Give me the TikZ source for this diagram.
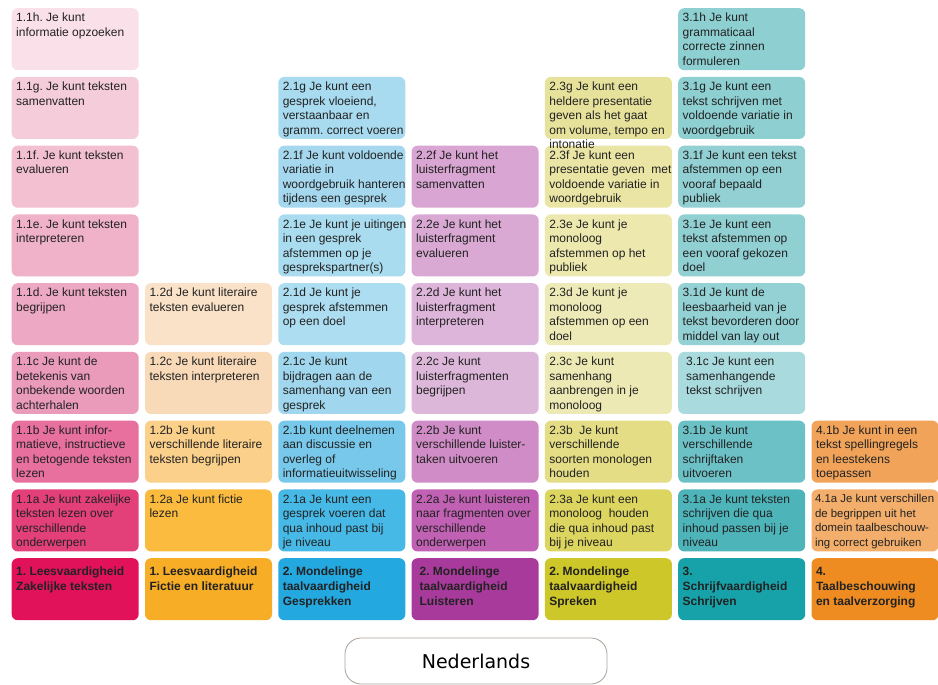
\documentclass[tikz,border=0pt]{standalone}
\usepackage{fontspec}
\setmainfont{Liberation Sans}
\newfontfamily\nlfont{DejaVu Sans}
\frenchspacing
\definecolor{txtdark}{HTML}{222222}
\definecolor{frameg}{HTML}{A8A098}
% column 1 pinks
\definecolor{pA}{HTML}{FAE0E9}\definecolor{pB}{HTML}{F5CCDA}\definecolor{pC}{HTML}{F2C0D1}
\definecolor{pD}{HTML}{EFB2C8}\definecolor{pE}{HTML}{EDA8C3}\definecolor{pF}{HTML}{EB9BBA}
\definecolor{pG}{HTML}{E8709F}\definecolor{pH}{HTML}{E3407A}\definecolor{pHd}{HTML}{E2125A}
% column 2 orange/yellow
\definecolor{oA}{HTML}{FAE2C8}\definecolor{oB}{HTML}{F9DAB8}\definecolor{oC}{HTML}{FBD08A}
\definecolor{oD}{HTML}{FABB3E}\definecolor{oHd}{HTML}{F8AD26}
% column 3 blue
\definecolor{bA}{HTML}{A8DBEF}\definecolor{bB}{HTML}{A5D8EE}\definecolor{bC}{HTML}{AADCF0}
\definecolor{bD}{HTML}{ACDDF0}\definecolor{bE}{HTML}{A0D7EE}\definecolor{bF}{HTML}{77C8EA}
\definecolor{bG}{HTML}{47B9E6}\definecolor{bHd}{HTML}{24A8E0}
% column 4 purple
\definecolor{uA}{HTML}{D9A5D2}\definecolor{uB}{HTML}{D9A9D4}\definecolor{uC}{HTML}{DDB4DA}
\definecolor{uD}{HTML}{DDB7DA}\definecolor{uE}{HTML}{D08CC6}\definecolor{uF}{HTML}{C061B3}
\definecolor{uHd}{HTML}{A83A9B}
% column 5 yellow
\definecolor{yA}{HTML}{E7E29B}\definecolor{yB}{HTML}{EAE5A4}\definecolor{yC}{HTML}{ECE8AE}
\definecolor{yD}{HTML}{EEEAB7}\definecolor{yE}{HTML}{EDE9B4}\definecolor{yF}{HTML}{E4DD85}
\definecolor{yG}{HTML}{DCD55F}\definecolor{yHd}{HTML}{CEC72A}
% column 6 teal
\definecolor{tA}{HTML}{8ECFD2}\definecolor{tB}{HTML}{8ECFD2}\definecolor{tC}{HTML}{92D0D3}
\definecolor{tD}{HTML}{90CFD2}\definecolor{tE}{HTML}{93D1D4}\definecolor{tF}{HTML}{A9DADD}
\definecolor{tG}{HTML}{6CC1C6}\definecolor{tH}{HTML}{4DB4BA}\definecolor{tHd}{HTML}{16A2A8}
% column 7 orange
\definecolor{rA}{HTML}{F2A35A}\definecolor{rB}{HTML}{F3AE6B}\definecolor{rHd}{HTML}{EE8C22}

\tikzset{
  cell/.style={rectangle, rounded corners=6pt, minimum width=127pt, minimum height=62pt,
               inner sep=0pt, anchor=north west, draw=none},
  txt/.style={anchor=north west, align=left, inner sep=0pt, text=txtdark,
              font=\fontsize{12}{14.5}\selectfont},
  htxt/.style={anchor=north west, align=left, inner sep=0pt, text=txtdark,
              font=\fontsize{12}{15}\selectfont\bfseries},
  nlbox/.style={draw=frameg, line width=0.8pt, rounded corners=16pt, minimum width=262pt,
              minimum height=46pt, inner sep=0pt, font=\nlfont\fontsize{19}{22}\selectfont, text=black}
}
\newcommand{\mkbox}[4]{\node[cell, fill=#4] (#1) at ({11.5+133.3*#2},{8+68.75*#3}) {};}
\newcommand{\mktxt}[2]{\node[txt] (#1t) at ([xshift=4.5pt,yshift=-5pt]#1.north west) {#2};}
\newcommand{\mkhead}[2]{\node[htxt] (#1t) at ([xshift=4.5pt,yshift=-9pt]#1.north west) {#2};}

\begin{document}
\begin{tikzpicture}[x=1pt,y=-1pt]
\useasboundingbox[fill=white] (0,0) rectangle (938,685);
% ---------- boxes ----------
% column 1
\mkbox{a8}{0}{0}{pA}\mkbox{a7}{0}{1}{pB}\mkbox{a6}{0}{2}{pC}\mkbox{a5}{0}{3}{pD}
\mkbox{a4}{0}{4}{pE}\mkbox{a3}{0}{5}{pF}\mkbox{a2}{0}{6}{pG}\mkbox{a1}{0}{7}{pH}
\mkbox{ah}{0}{8}{pHd}
% column 2
\mkbox{b4}{1}{4}{oA}\mkbox{b3}{1}{5}{oB}\mkbox{b2}{1}{6}{oC}\mkbox{b1}{1}{7}{oD}
\mkbox{bh}{1}{8}{oHd}
% column 3
\mkbox{c7}{2}{1}{bA}\mkbox{c6}{2}{2}{bB}\mkbox{c5}{2}{3}{bC}\mkbox{c4}{2}{4}{bD}
\mkbox{c3}{2}{5}{bE}\mkbox{c2}{2}{6}{bF}\mkbox{c1}{2}{7}{bG}\mkbox{ch}{2}{8}{bHd}
% column 4
\mkbox{d6}{3}{2}{uA}\mkbox{d5}{3}{3}{uB}\mkbox{d4}{3}{4}{uC}\mkbox{d3}{3}{5}{uD}
\mkbox{d2}{3}{6}{uE}\mkbox{d1}{3}{7}{uF}\mkbox{dh}{3}{8}{uHd}
% column 5
\mkbox{e7}{4}{1}{yA}\mkbox{e6}{4}{2}{yB}\mkbox{e5}{4}{3}{yC}\mkbox{e4}{4}{4}{yD}
\mkbox{e3}{4}{5}{yE}\mkbox{e2}{4}{6}{yF}\mkbox{e1}{4}{7}{yG}\mkbox{eh}{4}{8}{yHd}
% column 6
\mkbox{f8}{5}{0}{tA}\mkbox{f7}{5}{1}{tB}\mkbox{f6}{5}{2}{tC}\mkbox{f5}{5}{3}{tD}
\mkbox{f4}{5}{4}{tE}\mkbox{f3}{5}{5}{tF}\mkbox{f2}{5}{6}{tG}\mkbox{f1}{5}{7}{tH}
\mkbox{fh}{5}{8}{tHd}
% column 7
\mkbox{g2}{6}{6}{rA}\mkbox{g1}{6}{7}{rB}\mkbox{gh}{6}{8}{rHd}

% ---------- texts ----------
\mktxt{a8}{1.1h. Je kunt\\informatie opzoeken}
\mktxt{a7}{1.1g. Je kunt teksten\\samenvatten}
\mktxt{a6}{1.1f. Je kunt teksten\\evalueren}
\mktxt{a5}{1.1e. Je kunt teksten\\interpreteren}
\mktxt{a4}{1.1d. Je kunt teksten\\begrijpen}
\mktxt{a3}{1.1c Je kunt de\\betekenis van\\onbekende woorden\\achterhalen}
\mktxt{a2}{1.1b Je kunt infor-\\matieve, instructieve\\en betogende teksten\\lezen}
\mktxt{a1}{1.1a Je kunt zakelijke\\teksten lezen over\\verschillende\\onderwerpen}
\mkhead{ah}{1. Leesvaardigheid\\Zakelijke teksten}

\mktxt{b4}{1.2d Je kunt literaire\\teksten evalueren}
\mktxt{b3}{1.2c Je kunt literaire\\teksten interpreteren}
\mktxt{b2}{1.2b Je kunt\\verschillende literaire\\teksten begrijpen}
\mktxt{b1}{1.2a Je kunt fictie\\lezen}
\mkhead{bh}{1. Leesvaardigheid\\Fictie en literatuur}

\mktxt{c7}{2.1g Je kunt een\\gesprek vloeiend,\\verstaanbaar en\\gramm. correct voeren}
\mktxt{c6}{2.1f Je kunt voldoende\\variatie in\\woordgebruik hanteren\\tijdens een gesprek}
\mktxt{c5}{2.1e Je kunt je uitingen\\in een gesprek\\afstemmen op je\\gesprekspartner(s)}
\mktxt{c4}{2.1d Je kunt je\\gesprek afstemmen\\op een doel}
\mktxt{c3}{2.1c Je kunt\\bijdragen aan de\\samenhang van een\\gesprek}
\mktxt{c2}{2.1b kunt deelnemen\\aan discussie en\\overleg of\\informatieuitwisseling}
\mktxt{c1}{2.1a Je kunt een\\gesprek voeren dat\\qua inhoud past bij\\je niveau}
\mkhead{ch}{2. Mondelinge\\taalvaardigheid\\Gesprekken}

\mktxt{d6}{2.2f Je kunt het\\luisterfragment\\samenvatten}
\mktxt{d5}{2.2e Je kunt het\\luisterfragment\\evalueren}
\mktxt{d4}{2.2d Je kunt het\\luisterfragment\\interpreteren}
\mktxt{d3}{2.2c Je kunt\\luisterfragmenten\\begrijpen}
\mktxt{d2}{2.2b Je kunt\\verschillende luister-\\taken uitvoeren}
\mktxt{d1}{2.2a Je kunt luisteren\\naar fragmenten over\\verschillende\\onderwerpen}
\node[htxt] (dht) at ([xshift=8pt,yshift=-9pt]dh.north west) {2. Mondelinge\\taalvaardigheid\\Luisteren};

\mktxt{e7}{2.3g Je kunt een\\heldere presentatie\\geven als het gaat\\om volume, tempo en\\intonatie}
\mktxt{e6}{2.3f Je kunt een\\presentatie geven \ met\\voldoende variatie in\\woordgebruik}
\mktxt{e5}{2.3e Je kunt je\\monoloog\\afstemmen op het\\publiek}
\mktxt{e4}{2.3d Je kunt je\\monoloog\\afstemmen op een\\doel}
\mktxt{e3}{2.3c Je kunt\\samenhang\\aanbrengen in je\\monoloog}
\mktxt{e2}{2.3b \ Je kunt\\verschillende\\soorten monologen\\houden}
\mktxt{e1}{2.3a Je kunt een\\monoloog \ houden\\die qua inhoud past\\bij je niveau}
\mkhead{eh}{2. Mondelinge\\taalvaardigheid\\Spreken}

\mktxt{f8}{3.1h Je kunt\\grammaticaal\\correcte zinnen\\formuleren}
\mktxt{f7}{3.1g Je kunt een\\tekst schrijven met\\voldoende variatie in\\woordgebruik}
\mktxt{f6}{3.1f Je kunt een tekst\\afstemmen op een\\vooraf bepaald\\publiek}
\mktxt{f5}{3.1e Je kunt een\\tekst afstemmen op\\een vooraf gekozen\\doel}
\mktxt{f4}{3.1d Je kunt de\\leesbaarheid van je\\tekst bevorderen door\\middel van lay out}
\node[txt] (f3t) at ([xshift=8pt,yshift=-5pt]f3.north west) {3.1c Je kunt een\\samenhangende\\tekst schrijven};
\mktxt{f2}{3.1b Je kunt\\verschillende\\schrijftaken\\uitvoeren}
\mktxt{f1}{3.1a Je kunt teksten\\schrijven die qua\\inhoud passen bij je\\niveau}
\mkhead{fh}{3.\\Schrijfvaardigheid\\Schrijven}

\mktxt{g2}{4.1b Je kunt in een\\tekst spellingregels\\en leestekens\\toepassen}
\node[txt, font=\fontsize{11.4}{14.5}\selectfont] (g1t) at ([xshift=3.5pt,yshift=-5pt]g1.north west)
  {4.1a Je kunt verschillen\\de begrippen uit het\\domein taalbeschouw-\\ing correct gebruiken};
\mkhead{gh}{4.\\Taalbeschouwing\\en taalverzorging}

% ---------- subject label ----------
\node[nlbox] (nl) at (476,661) {Nederlands};
\end{tikzpicture}
\end{document}
